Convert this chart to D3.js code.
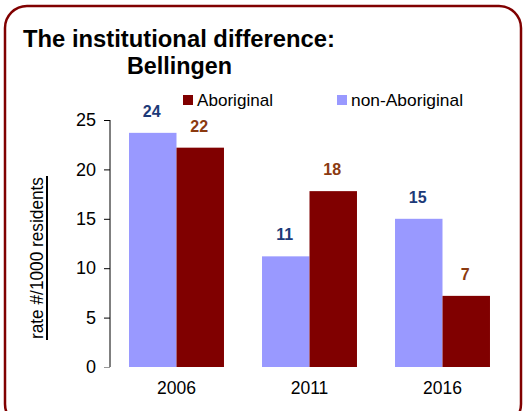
<!DOCTYPE html>
<html>
<head>
<meta charset="utf-8">
<script src="https://cdn.jsdelivr.net/npm/d3@7"></script>
<style>
  html, body { margin: 0; padding: 0; background: #fff; }
  svg { display: block; font-family: "Liberation Sans", Arial, sans-serif; }
</style>
</head>
<body>
<svg id="chart" width="528" height="411"></svg>
<script>
// --- données ---
const years = ["2006", "2011", "2016"];
const seriesNames = ["non-Aboriginal", "Aboriginal"];
const nonAboriginal = [23.7, 11.2, 15.0];
const aboriginal = [22.2, 17.8, 7.2];
const labelsNonAboriginal = ["24", "11", "15"];
const labelsAboriginal = ["22", "18", "7"];
const yTicks = [0, 5, 10, 15, 20, 25];

const colors = { "non-Aboriginal": "#9999ff", "Aboriginal": "#800000" };
const labelColors = { "non-Aboriginal": "#1c3a78", "Aboriginal": "#8b3a10" };

const svg = d3.select("#chart");

// cadre arrondi
svg.append("rect")
    .attr("x", 5).attr("y", 6)
    .attr("width", 516).attr("height", 420)
    .attr("rx", 22).attr("ry", 22)
    .attr("fill", "#fff")
    .attr("stroke", "#800000")
    .attr("stroke-width", 2.5);

// titre
svg.append("text")
    .attr("x", 23).attr("y", 47)
    .attr("font-size", 23).attr("font-weight", "bold")
    .attr("textLength", 312).attr("lengthAdjust", "spacingAndGlyphs")
    .text("The institutional difference:");
svg.append("text")
    .attr("x", 127).attr("y", 74)
    .attr("font-size", 23).attr("font-weight", "bold")
    .attr("textLength", 105).attr("lengthAdjust", "spacingAndGlyphs")
    .text("Bellingen");

// échelles
const x = d3.scaleBand().domain(years).range([110, 509]).paddingInner(0.286).paddingOuter(0.143);
const xs = d3.scaleBand().domain(seriesNames).range([0, x.bandwidth()]);
const y = d3.scaleLinear().domain([0, 25]).range([367, 120]);

// axe Y
const yAxis = svg.append("g")
    .attr("transform", "translate(110,0)")
    .call(d3.axisLeft(y).tickValues(yTicks).tickSize(6).tickPadding(8));
yAxis.select(".domain").attr("stroke", "#000").attr("d", `M0,${y(25)}V${y(0)}`);
yAxis.selectAll(".tick line").attr("stroke", d => d === 0 ? "#999" : "#000");
yAxis.selectAll(".tick text")
    .attr("font-size", 18).attr("font-family", "Liberation Sans, Arial, sans-serif")
    .attr("fill", "#000");

// titre axe Y (souligné)
const yLabCenter = 258;
svg.append("text")
    .attr("transform", `translate(43,${yLabCenter}) rotate(-90)`)
    .attr("text-anchor", "middle")
    .attr("font-size", 17.5)
    .attr("textLength", 162).attr("lengthAdjust", "spacingAndGlyphs")
    .text("rate #/1000 residents");
svg.append("line")
    .attr("x1", 47).attr("x2", 47)
    .attr("y1", yLabCenter - 82).attr("y2", yLabCenter + 82)
    .attr("stroke", "#000").attr("stroke-width", 2);

// étiquettes X
svg.append("g").selectAll("text")
    .data(years)
    .join("text")
    .attr("x", d => x(d) + x.bandwidth() / 2)
    .attr("y", 394)
    .attr("text-anchor", "middle")
    .attr("font-size", 17.5)
    .text(d => d);

// barres
const rows = years.map((yr, i) => ({
    year: yr,
    values: [
        { key: "non-Aboriginal", v: nonAboriginal[i], label: labelsNonAboriginal[i] },
        { key: "Aboriginal", v: aboriginal[i], label: labelsAboriginal[i] }
    ]
}));

const groups = svg.append("g").selectAll("g")
    .data(rows)
    .join("g")
    .attr("transform", d => `translate(${x(d.year)},0)`);

groups.selectAll("rect")
    .data(d => d.values)
    .join("rect")
    .attr("x", d => xs(d.key))
    .attr("y", d => y(d.v))
    .attr("width", xs.bandwidth())
    .attr("height", d => y(0) - y(d.v))
    .attr("fill", d => colors[d.key]);

groups.selectAll("text")
    .data(d => d.values)
    .join("text")
    .attr("x", d => xs(d.key) + xs.bandwidth() / 2 - 1)
    .attr("y", d => y(d.v) - 16)
    .attr("text-anchor", "middle")
    .attr("font-size", 16)
    .attr("font-weight", "bold")
    .attr("fill", d => labelColors[d.key])
    .text(d => d.label);

// légende
const legendItems = [
    { key: "Aboriginal", x: 183 },
    { key: "non-Aboriginal", x: 337 }
];
const legend = svg.append("g").selectAll("g")
    .data(legendItems)
    .join("g")
    .attr("transform", d => `translate(${d.x},95)`);
legend.append("rect")
    .attr("width", 10).attr("height", 10)
    .attr("fill", d => colors[d.key]);
legend.append("text")
    .attr("x", 14).attr("y", 11)
    .attr("font-size", 17)
    .attr("textLength", d => d.key === "Aboriginal" ? 76 : 112)
    .attr("lengthAdjust", "spacingAndGlyphs")
    .text(d => d.key);
</script>
</body>
</html>
